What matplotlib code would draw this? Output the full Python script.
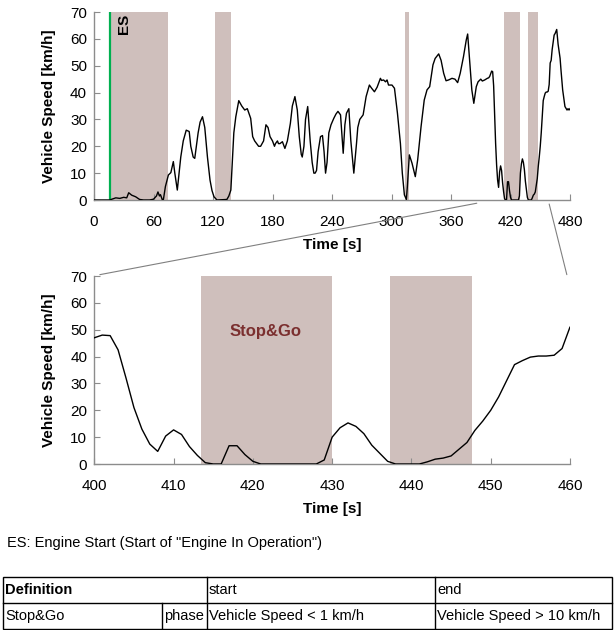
import matplotlib
matplotlib.use("Agg")
import matplotlib.pyplot as plt
from matplotlib.patches import ConnectionPatch, Rectangle
import numpy as np

plt.rcParams['font.family'] = ['Liberation Sans', 'DejaVu Sans']

# vehicle speed trace (time [s], speed [km/h])
time_s = [0, 16, 18, 22, 26, 30, 33, 35, 38, 42, 46, 50, 56, 60, 63, 64.5, 66, 67, 69, 70,
          72, 75, 77.5, 80, 81.5, 84, 87.5, 90, 93, 96, 97.6, 100, 101.6, 105, 107, 109.4,
          111.7, 114.4, 117, 119, 121, 124, 134, 136, 138, 141, 143, 146, 149, 151, 152,
          154.6, 156, 158, 160, 162, 164, 166, 168, 171, 173.4, 175.5, 177.5, 180, 182, 183,
          185, 186, 187.5, 190, 192.5, 195, 198, 200, 202.6, 205, 207, 209, 210, 211.7,
          213.3, 215.5, 218, 220, 221.7, 223, 224.4, 226, 228.4, 230.4, 232, 233.5, 235,
          236.8, 239, 241.8, 244, 246, 248.6, 251.3, 253, 254.6, 257, 259, 262, 264.7, 266,
          268, 271.4, 274.4, 277.7, 280, 282.8, 285.5, 288.8, 290, 292, 294, 295.5, 297,
          300.5, 303, 306, 309, 310.9, 313, 315, 316, 318, 320.7, 324, 326.4, 329.8, 333,
          335.8, 338.5, 341.8, 344, 347.6, 350, 352.6, 355, 357.6, 361, 364, 366.7, 369.3,
          372.6, 375.4, 376.8, 378.8, 381, 383, 385.5, 387.3, 390, 391.6, 394, 396.6, 398, 399,
          400, 401, 402, 403, 404, 405, 406, 407, 408, 409, 410, 411, 412, 413, 414, 415,
          416, 417, 418, 419, 420, 421, 422, 423, 424, 425, 426, 427, 428, 429, 430, 431,
          432, 433, 434, 435, 436, 437, 438, 439, 440, 441, 442, 443, 444, 445, 446, 447,
          448, 449, 450, 451, 452, 453, 454, 455, 456, 457, 458, 459, 460,
          461, 462, 464, 465, 466.6, 468, 470, 471, 472.6, 474.9, 477, 478, 479, 480]
speed_kmh = [0, 0, 0.3, 0.8, 0.6, 1.0, 0.8, 2.7, 1.8, 1.2, 0.2, 0, 0, 0.3, 1.5, 3, 1.5, 2.0, 0, 0.2,
             5, 9.3, 10.2, 14.3, 10, 3.7, 16, 22, 26, 25.5, 20, 16, 15.5, 25, 29, 31,
             27, 16, 7.4, 3.5, 1.2, 0, 0.2, 1.5, 3.7, 25, 31, 37, 35, 34, 33.5,
             34, 32.5, 30.4, 23.6, 22, 21, 20, 20, 22, 28, 27, 23.6, 22, 20, 21,
             22, 21, 21, 21.7, 19.2, 22, 28.5, 35, 38.5, 33.5, 23.6, 17, 16, 20,
             30, 34.8, 22, 14, 10, 10, 11, 18, 23.6, 24, 18, 10, 14,
             25, 28, 30.4, 32, 33, 31.7, 17.4, 28, 32.3, 34, 22, 10, 21, 27,
             30, 31.7, 38.5, 42.8, 41.6, 40.3, 42, 45.3, 44.5, 44.7, 44, 44.7, 42.8,
             42.8, 41.6, 32.3, 21, 10, 1.9, 0.2, 5, 16.8, 13.7, 8.7, 15, 27.3, 37.2,
             41, 42.2, 50.3, 52.7, 54.4, 52, 47.2, 44.4, 44.7, 45.3, 45, 43.7, 47.2,
             53.4, 59.6, 61.8, 52, 41, 36, 42.2, 44, 45, 44.3, 44.7, 45.3, 45.5, 46,
             47, 48, 47.8, 42.5, 32, 21, 13, 7.4, 4.7, 10.4, 12.7, 11, 6.5, 3.2, 0.5, 0,
             0, 6.8, 6.8, 3.5, 1, 0, 0, 0, 0, 0, 0, 0, 0, 1.5, 10, 13.5,
             15.3, 14, 11.3, 7, 4, 1, 0, 0, 0, 0, 0.8, 1.8, 2.2, 3, 5.5, 8,
             12.5, 16, 20, 25, 31, 37, 38.5, 39.8, 40.2, 40.2, 40.5, 43, 51,
             52, 56, 61.4, 62, 63.5, 58, 52.8, 48, 41, 34.8, 33.5, 34, 33.5, 34]

engine_start = 16
stop_go_start = [16, 122, 314, 413.5, 437.3]
stop_go_end = [75, 138, 317.5, 430, 447.6]

top_xticks = [0, 60, 120, 180, 240, 300, 360, 420, 480]
zoom_xticks = [400, 410, 420, 430, 440, 450, 460]
yticks = [0, 10, 20, 30, 40, 50, 60, 70]

table_rows = [["Definition", "", "start", "end"],
              ["Stop&Go", "phase", "Vehicle Speed < 1 km/h", "Vehicle Speed > 10 km/h"]]

shade = "#cfbfbc"
spine_gray = "#8c8c8c"
W, H = 614, 630


def style_axes(ax, xticks):
    for s in ["top", "right"]:
        ax.spines[s].set_visible(False)
    for s in ["left", "bottom"]:
        ax.spines[s].set_color(spine_gray)
        ax.spines[s].set_linewidth(1.0)
    ax.set_xticks(xticks)
    ax.set_yticks(yticks)
    ax.set_ylim(0, 70)
    ax.tick_params(axis="x", direction="in", length=4, color=spine_gray, labelsize=11, pad=10.5)
    ax.tick_params(axis="y", direction="in", length=4, color=spine_gray, labelsize=11, pad=5)
    ax.set_ylabel("Vehicle Speed [km/h]", fontsize=11, fontweight="bold", labelpad=10)
    ax.set_xlabel("Time [s]", fontsize=11, fontweight="bold", labelpad=6.5)


fig = plt.figure(figsize=(6.14, 6.30), dpi=100)

# overview chart
ax1 = fig.add_axes([94 / W, 1 - 200 / H, 476 / W, 188 / H])
for a, b in zip(stop_go_start, stop_go_end):
    ax1.axvspan(a, b, color=shade, lw=0, zorder=0)
ax1.axvline(engine_start, color="#00b050", lw=1.6, zorder=2)
ax1.plot(time_s, speed_kmh, color="black", lw=1.0, zorder=3)
ax1.text(engine_start + 14, 69.5, "ES", rotation=90, fontsize=11, fontweight="bold",
         ha="center", va="top")
ax1.set_xlim(0, 480)
style_axes(ax1, top_xticks)

# zoomed chart
ax2 = fig.add_axes([94.3 / W, 1 - 464 / H, 475.7 / W, 188 / H])
for a, b in zip(stop_go_start, stop_go_end):
    ax2.axvspan(a, b, color=shade, lw=0, zorder=0)
ax2.plot(time_s, speed_kmh, color="black", lw=1.0, zorder=3)
ax2.text(421.6, 49.5, "Stop&Go", color="#7b2f2f", fontsize=12, fontweight="bold",
         ha="center", va="center")
ax2.set_xlim(400, 460)
style_axes(ax2, zoom_xticks)

for p_top, p_bot in [((386, -1.2), (400.7, 70.5)), ((459, -1.5), (459.6, 70.5))]:
    con = ConnectionPatch(xyA=p_top, coordsA=ax1.transData, xyB=p_bot, coordsB=ax2.transData,
                          color="#808080", lw=0.8)
    con.set_clip_on(False)
    fig.add_artist(con)

# footnote and definition table (pixel coordinates)
tab = fig.add_axes([0, 0, 1, 1])
tab.set_xlim(0, W)
tab.set_ylim(H, 0)
tab.axis("off")
tab.text(7, 543, 'ES: Engine Start (Start of "Engine In Operation")', fontsize=10.5, va="center")

col_x = [3, 162, 207, 435, 612]
row_y = [577, 603, 629]
tab.add_patch(Rectangle((col_x[0], row_y[0]), col_x[-1] - col_x[0], row_y[-1] - row_y[0],
                        fill=False, ec="black", lw=1.0))
tab.plot([col_x[0], col_x[-1]], [row_y[1], row_y[1]], color="black", lw=1.0)
tab.plot([col_x[1], col_x[1]], [row_y[1], row_y[2]], color="black", lw=1.0)
for cx in col_x[2:4]:
    tab.plot([cx, cx], [row_y[0], row_y[2]], color="black", lw=1.0)
for r, row in enumerate(table_rows):
    yc = (row_y[r] + row_y[r + 1]) / 2
    for c, txt in enumerate(row):
        if not txt:
            continue
        weight = "bold" if (r == 0 and c == 0) else "normal"
        tab.text(col_x[c] + 2, yc, txt, fontsize=10.5, va="center", fontweight=weight)

fig.savefig("out.png", dpi=100)
